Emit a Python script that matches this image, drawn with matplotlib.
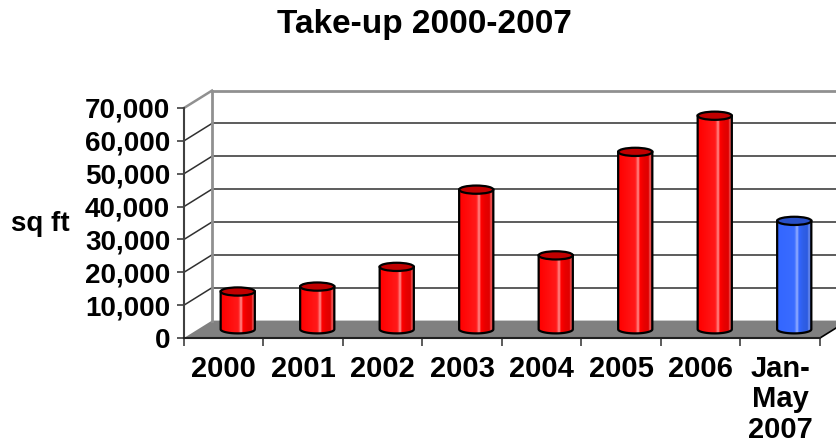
import matplotlib.pyplot as plt
import numpy as np
from matplotlib.patches import Polygon, Ellipse
from matplotlib.colors import to_rgb

years = ['2000', '2001', '2002', '2003', '2004', '2005', '2006', 'Jan-\nMay\n2007']
take_up = [11500, 13000, 19000, 42500, 22500, 54000, 65000, 33000]
is_partial = [False] * 7 + [True]
y_ticks = np.arange(0, 70001, 10000)

plt.rcParams['font.family'] = ['Liberation Sans', 'DejaVu Sans']
plt.rcParams['font.weight'] = 'bold'

fig = plt.figure(figsize=(8.37, 4.46), dpi=100)
ax = fig.add_axes([184 / 837, 108 / 446, 636 / 837, 230 / 446])
n = len(years)
ymax = 70000
ax.set_xlim(0, n)
ax.set_ylim(0, ymax)

# 3d depth offset in data units
dx, dy = 0.352, 5300

# floor
ax.add_patch(Polygon([(0, 0), (n, 0), (n + dx, dy), (dx, dy)], closed=True,
                     fc='#808080', ec='none', zorder=1, clip_on=False))
ax.plot([n, n + dx], [0, dy], color='black', lw=1.2, zorder=1.2, clip_on=False)

# back wall + side wall grid
for v in y_ticks[1:-1]:
    ax.plot([dx, n + dx], [v + dy, v + dy], color='#303030', lw=1.1, zorder=1.5, clip_on=False)
for v in y_ticks[1:]:
    ax.plot([0, dx], [v, v + dy], color='#303030' if v < ymax else '#909090',
            lw=1.1 if v < ymax else 1.8, zorder=1.5, clip_on=False)
ax.plot([dx, n + dx], [ymax + dy, ymax + dy], color='#909090', lw=2, zorder=1.5, clip_on=False)
ax.plot([dx, dx], [dy, ymax + dy], color='#909090', lw=2, zorder=1.5, clip_on=False)

# cylinders
w = 0.43
h = 2500
red = ['#ff0000', '#ff1a1a', '#ff9090', '#ff0000', '#e80000', '#e00000', '#f06060', '#d00000']
blue = ['#3366ff', '#3a6cff', '#9ab2ff', '#3366ff', '#2f5fe8', '#2c5ae0', '#6f8ff0', '#2850c8']
stops = [0.0, 0.5, 0.58, 0.63, 0.75, 0.88, 0.92, 1.0]
t = np.linspace(0, 1, 60)
for i, (val, partial) in enumerate(zip(take_up, is_partial)):
    cols = np.array([to_rgb(c) for c in (blue if partial else red)])
    grad = np.stack([np.interp(t, stops, cols[:, k]) for k in range(3)], axis=-1)[None, :, :]
    cx = i + 0.5 + dx / 2
    base = dy / 2
    top = val + dy / 2
    ang = np.linspace(np.pi, 2 * np.pi, 40)
    pts = [(cx - w / 2, top)] + [(cx + w / 2 * np.cos(a), base + h / 2 * np.sin(a)) for a in ang] + [(cx + w / 2, top)]
    body = Polygon(pts, closed=True, fc='none', ec='black', lw=1.6, zorder=3.1)
    ax.add_patch(body)
    im = ax.imshow(grad, extent=[cx - w / 2, cx + w / 2, base - h, top], aspect='auto',
                   zorder=3, interpolation='bilinear')
    im.set_clip_path(body)
    ax.add_patch(Ellipse((cx, top), w, h, fc='#2850c8' if partial else '#c00000',
                         ec='black', lw=1.6, zorder=3.2))

ax.set_xlim(0, n)
ax.set_ylim(0, ymax)

# axes and ticks
for s in ['top', 'right']:
    ax.spines[s].set_visible(False)
ax.spines['left'].set_color('#404040')
ax.spines['left'].set_linewidth(1.5)
ax.spines['bottom'].set_color('#202020')
ax.spines['bottom'].set_linewidth(1.5)
ax.spines['left'].set_zorder(4)
ax.spines['bottom'].set_zorder(4)

ax.set_yticks(y_ticks)
ax.set_yticklabels([f'{v:,}' for v in y_ticks])
ax.tick_params(axis='y', length=5, width=1.2, color='#404040', pad=5, labelsize=20)
ax.set_xticks(np.arange(n + 1))
ax.set_xticklabels([])
ax.set_xticks(np.arange(n) + 0.5, minor=True)
ax.set_xticklabels(years, minor=True)
ax.tick_params(axis='x', which='major', length=6, width=1.2, color='#404040')
ax.tick_params(axis='x', which='minor', length=0, pad=12, labelsize=21)
for lbl in ax.get_xticklabels(minor=True):
    lbl.set_linespacing(1.12)

fig.text(40 / 837, 1 - 224 / 446, 'sq ft', ha='center', va='center', fontsize=20, fontweight='bold')
fig.text(424 / 837, 1 - 25 / 446, 'Take-up 2000-2007', ha='center', va='center',
         fontsize=24, fontweight='bold')

fig.savefig('out.png', dpi=100)
